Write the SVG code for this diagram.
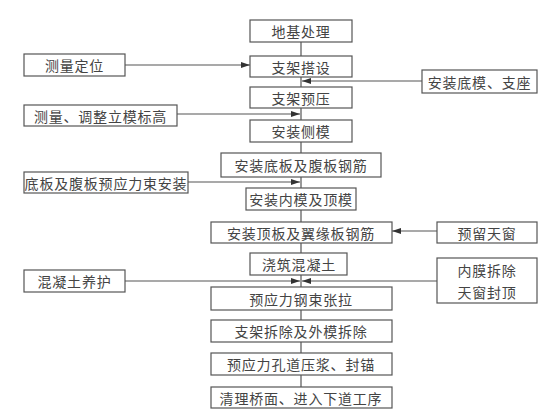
<svg xmlns="http://www.w3.org/2000/svg" width="560" height="420" viewBox="0 0 560 420">
<style>
rect{fill:#fff;stroke:#555;stroke-width:1.2}
text{font-family:"Noto Sans CJK SC","Noto Sans CJK JP",sans-serif;font-size:14px;fill:#444;text-anchor:middle;dominant-baseline:central;letter-spacing:0.8px}
.c line{stroke:#555;stroke-width:1.2}
</style>
<defs>
<marker id="ah" markerWidth="9" markerHeight="6" refX="9" refY="3" orient="auto" markerUnits="userSpaceOnUse">
<path d="M0,0L9,3L0,6z" fill="#333"/>
</marker>
</defs>
<rect x="0" y="0" width="560" height="420" style="fill:#fff;stroke:none"/>
<g class="c" id="connectors">
<line x1="301" y1="42" x2="301" y2="56"/>
<line x1="301" y1="77" x2="301" y2="87"/>
<line x1="301" y1="108" x2="301" y2="120"/>
<line x1="301" y1="142" x2="301" y2="153"/>
<line x1="301" y1="177" x2="301" y2="188"/>
<line x1="301" y1="210" x2="301" y2="222"/>
<line x1="301" y1="243" x2="301" y2="253"/>
<line x1="301" y1="275" x2="301" y2="287"/>
<line x1="301" y1="310" x2="301" y2="320"/>
<line x1="301" y1="342" x2="301" y2="353"/>
<line x1="301" y1="375" x2="301" y2="387"/>
<line x1="125" y1="65" x2="250" y2="65" marker-end="url(#ah)"/>
<line x1="422" y1="81" x2="302" y2="81" marker-end="url(#ah)"/>
<line x1="177" y1="114" x2="300" y2="114" marker-end="url(#ah)"/>
<line x1="188" y1="182" x2="300" y2="182" marker-end="url(#ah)"/>
<line x1="437" y1="231" x2="392" y2="231" marker-end="url(#ah)"/>
<line x1="125" y1="281" x2="300" y2="281" marker-end="url(#ah)"/>
<line x1="437" y1="281" x2="302" y2="281" marker-end="url(#ah)"/>
</g>
<g id="n1"><rect x="250" y="20" width="102" height="22"/><text x="301" y="31">地基处理</text></g>
<g id="n2"><rect x="250" y="56" width="102" height="21"/><text x="301" y="66.5">支架搭设</text></g>
<g id="n3"><rect x="250" y="87" width="102" height="21"/><text x="301" y="97.5">支架预压</text></g>
<g id="n4"><rect x="250" y="120" width="102" height="22"/><text x="301" y="131">安装侧模</text></g>
<g id="n5"><rect x="221" y="153" width="160" height="24"/><text x="301" y="165">安装底板及腹板钢筋</text></g>
<g id="n6"><rect x="246" y="188" width="110" height="22"/><text x="301" y="199">安装内模及顶模</text></g>
<g id="n7"><rect x="211" y="222" width="181" height="21"/><text x="301" y="232.5">安装顶板及翼缘板钢筋</text></g>
<g id="n8"><rect x="250" y="253" width="97" height="22"/><text x="299" y="264">浇筑混凝土</text></g>
<g id="n9"><rect x="211" y="287" width="181" height="23"/><text x="301" y="298.5">预应力钢束张拉</text></g>
<g id="n10"><rect x="211" y="320" width="181" height="22"/><text x="301" y="331">支架拆除及外模拆除</text></g>
<g id="n11"><rect x="211" y="353" width="181" height="22"/><text x="301" y="364">预应力孔道压浆、封锚</text></g>
<g id="n12"><rect x="211" y="387" width="181" height="21"/><text x="301" y="397.5">清理桥面、进入下道工序</text></g>
<g id="l1"><rect x="24" y="54" width="101" height="22"/><text x="74.5" y="65">测量定位</text></g>
<g id="l2"><rect x="24" y="105" width="153" height="21"/><text x="100.5" y="115.5">测量、调整立模标高</text></g>
<g id="l3"><rect x="24" y="172" width="164" height="21"/><text x="106" y="182.5">底板及腹板预应力束安装</text></g>
<g id="l4"><rect x="24" y="270" width="101" height="22"/><text x="74.5" y="281">混凝土养护</text></g>
<g id="r1"><rect x="422" y="70" width="115" height="23"/><text x="479.5" y="81.5">安装底模、支座</text></g>
<g id="r2"><rect x="437" y="222" width="100" height="21"/><text x="487" y="232.5">预留天窗</text></g>
<g id="r3"><rect x="437" y="258" width="100" height="45"/><text x="487" y="270">内膜拆除</text><text x="487" y="292">天窗封顶</text></g>
</svg>
